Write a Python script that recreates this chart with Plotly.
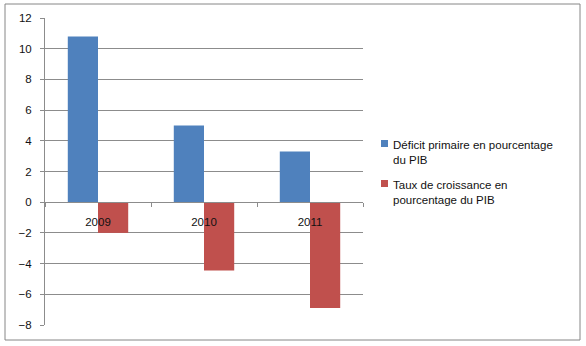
import plotly.graph_objects as go

years = ["2009", "2010", "2011"]
deficit = [10.8, 5.0, 3.3]
croissance = [-2.0, -4.45, -6.9]
series_names = ["Déficit primaire en pourcentage<br>du PIB",
                "Taux de croissance en<br>pourcentage du PIB"]
series_colors = ["#4F81BD", "#C0504D"]
y_ticks = [-8, -6, -4, -2, 0, 2, 4, 6, 8, 10, 12]

W, H = 586, 346
L, R, T, B = 45, 223, 18, 21
pw, ph = W - L - R, H - T - B


def px_x(px):
    return (px - L) / pw


def px_y(py):
    return (H - B - py) / ph


fig = go.Figure()
fig.add_trace(go.Bar(x=years, y=deficit, name=series_names[0].replace("<br>", " "),
                     marker_color=series_colors[0], marker_line_width=0, showlegend=False))
fig.add_trace(go.Bar(x=years, y=croissance, name=series_names[1].replace("<br>", " "),
                     marker_color=series_colors[1], marker_line_width=0, showlegend=False))

grid = "#8C8C8C"
fs = 11.5
fig.update_layout(
    width=W, height=H,
    margin=dict(l=L, r=R, t=T, b=B),
    paper_bgcolor="white", plot_bgcolor="white",
    barmode="group", bargap=0.43, bargroupgap=0,
    font=dict(family="Liberation Sans, Arial, sans-serif", size=fs, color="#111111"),
    showlegend=False,
    xaxis=dict(type="category", anchor="free", position=8 / 20,
               showline=True, linecolor=grid, linewidth=1,
               ticks="outside", ticklen=4, tickcolor=grid, tickson="boundaries",
               ticklabelstandoff=9,
               showgrid=False, zeroline=False, fixedrange=True),
    yaxis=dict(range=[-8, 12], tickvals=y_ticks, showgrid=True, gridcolor=grid,
               gridwidth=1, zeroline=False, showline=True, linecolor=grid,
               ticks="outside", ticklen=4, tickcolor=grid, ticklabelstandoff=6,
               fixedrange=True),
)

# manual legend (square swatches + text)
legend_tops = [137, 177]
for name, color, top in zip(series_names, series_colors, legend_tops):
    fig.add_shape(type="rect", xref="paper", yref="paper",
                  x0=px_x(381), x1=px_x(388), y0=px_y(top + 10), y1=px_y(top + 3),
                  line=dict(width=0), fillcolor=color)
    fig.add_annotation(xref="paper", yref="paper", x=px_x(391), y=px_y(top),
                       xanchor="left", yanchor="top", align="left", showarrow=False,
                       text=name, font=dict(size=fs, color="#111111"))

# outer chart border
fig.add_shape(type="rect", xref="paper", yref="paper",
              x0=px_x(5), x1=px_x(580), y0=px_y(340), y1=px_y(4),
              line=dict(color="#868686", width=1), fillcolor="rgba(0,0,0,0)", layer="below")

fig.write_html("out.html")
